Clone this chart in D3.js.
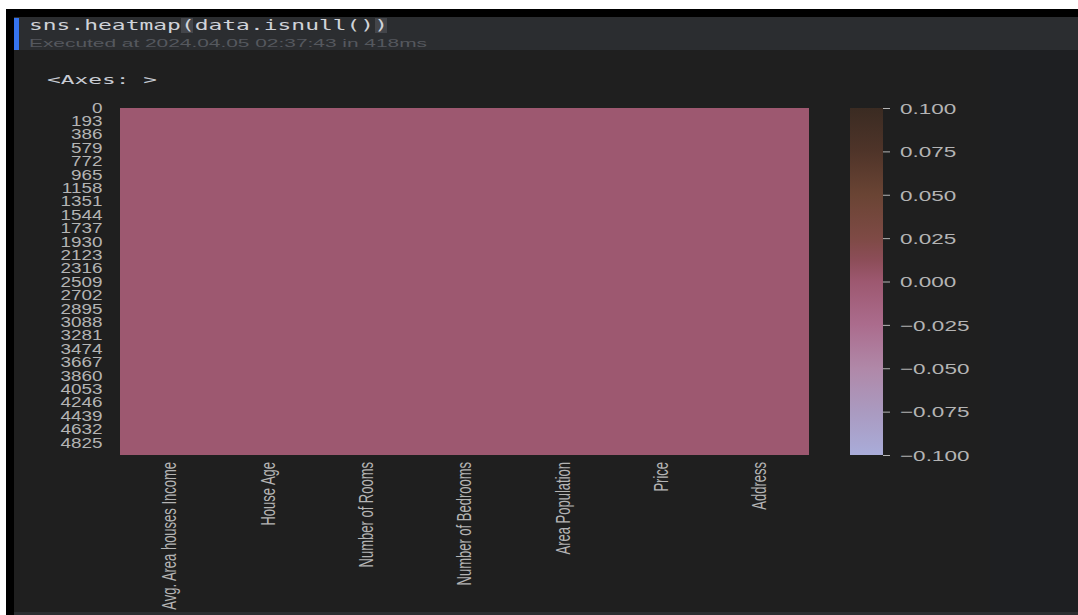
<!DOCTYPE html>
<html>
<head>
<meta charset="utf-8">
<title>sns.heatmap(data.isnull())</title>
<script src="https://d3js.org/d3.v7.min.js"></script>
<style>
  body { margin: 0; background: #ffffff; }
  svg { display: block; }
</style>
</head>
<body>
<div id="chart"></div>
<script>
// columns of the dataframe and the share of null values in each (all False)
const columns = ["Avg. Area houses Income", "House Age", "Number of Rooms",
                 "Number of Bedrooms", "Area Population", "Price", "Address"];
const nullValues = [0, 0, 0, 0, 0, 0, 0];
const rowCount = 5000;

// tick labels
const rowTicks = d3.range(0, 4826, 193);
const barTicks = [0.1, 0.075, 0.05, 0.025, 0, -0.025, -0.05, -0.075, -0.1];

// colormap stops
const cmapValues = [-0.1, -0.075, -0.05, -0.025, 0, 0.0125, 0.025, 0.05, 0.075, 0.1];
const cmapColors = ["#a9acd9", "#aa9ac0", "#b088a8", "#ab6c8d", "#9d5870",
                    "#8c4d58", "#7e4a45", "#6a4434", "#4f3429", "#3a2b22"];

const W = 1078, H = 615;
const svg = d3.select("#chart").append("svg")
    .attr("width", W).attr("height", H);

// notebook frame
svg.append("rect").attr("x", 6).attr("y", 9).attr("width", W - 6).attr("height", H - 9).attr("fill", "#000");
svg.append("rect").attr("x", 14).attr("y", 17).attr("width", W - 14).attr("height", 33).attr("fill", "#2b2d30");
svg.append("rect").attr("x", 14).attr("y", 50).attr("width", W - 14).attr("height", 562).attr("fill", "#1f1f1f");
svg.append("rect").attr("x", 990).attr("y", 50).attr("width", W - 990).attr("height", 562).attr("fill", "#1e1f22");
svg.append("rect").attr("x", 14).attr("y", 612).attr("width", W - 14).attr("height", 3).attr("fill", "#2b2d30");
svg.append("rect").attr("x", 14).attr("y", 18).attr("width", 5).attr("height", 32).attr("fill", "#3574f0");

// code line with bracket highlight
svg.append("rect").attr("x", 181).attr("y", 18).attr("width", 12).attr("height", 15).attr("fill", "#43454a");
svg.append("rect").attr("x", 375).attr("y", 18).attr("width", 12).attr("height", 15).attr("fill", "#43454a");
svg.append("text").attr("x", 29).attr("y", 30)
    .attr("font-family", "DejaVu Sans Mono").attr("font-size", "14px")
    .attr("textLength", 359).attr("lengthAdjust", "spacingAndGlyphs")
    .attr("fill", "#d0d3d9")
    .text("sns.heatmap(data.isnull())");
svg.append("text").attr("x", 29).attr("y", 47)
    .attr("font-family", "Liberation Sans").attr("font-size", "11px")
    .attr("textLength", 398).attr("lengthAdjust", "spacingAndGlyphs")
    .attr("fill", "#55585e")
    .text("Executed at 2024.04.05 02:37:43 in 418ms");
svg.append("text").attr("x", 47).attr("y", 84)
    .attr("font-family", "DejaVu Sans Mono").attr("font-size", "13px")
    .attr("textLength", 110).attr("lengthAdjust", "spacingAndGlyphs")
    .attr("fill", "#c8ccd4")
    .text("<Axes: >");

// heatmap
const mLeft = 120, mRight = 808, mTop = 108, mBottom = 455;

const x = d3.scaleBand().domain(columns).range([mLeft, mRight]);
const y = d3.scaleLinear().domain([0, rowCount]).range([mTop, mBottom]);
const color = d3.scaleLinear().domain(cmapValues).range(cmapColors);

svg.append("g")
    .attr("shape-rendering", "crispEdges")
    .selectAll("rect")
    .data(columns.map((c, i) => ({ col: c, v: nullValues[i] })))
    .join("rect")
    .attr("x", d => Math.floor(x(d.col)))
    .attr("y", y(0))
    .attr("width", Math.ceil(x.bandwidth()) + 1)
    .attr("height", y(rowCount) - y(0))
    .attr("fill", d => color(d.v));

const labelColor = "#b4b4b4";

// row axis
const yAxis = svg.append("g")
    .attr("transform", "translate(" + mLeft + ",0)")
    .call(d3.axisLeft(y).tickValues(rowTicks).tickSize(0).tickPadding(13)
        .tickFormat(d3.format("d")));
yAxis.select(".domain").remove();
yAxis.selectAll("text")
    .attr("font-family", "Liberation Sans").attr("font-size", "14px")
    .attr("fill", labelColor).attr("dy", "0.3em")
    .attr("transform", "scale(1.35,1)");

// column axis
const xAxis = svg.append("g")
    .attr("transform", "translate(0," + mBottom + ")")
    .call(d3.axisBottom(x).tickSize(0).tickPadding(0));
xAxis.select(".domain").remove();
xAxis.selectAll("text")
    .attr("font-family", "Liberation Sans").attr("font-size", "13px")
    .attr("fill", labelColor)
    .attr("text-anchor", "end")
    .attr("x", -7).attr("y", 0).attr("dy", "0.35em")
    .attr("transform", "scale(1.6,1) rotate(-90)");

// colour bar
const cbX = 850, cbW = 33;
const cbScale = d3.scaleLinear().domain([0.1, -0.1]).range([mTop, mBottom]);

const grad = svg.append("defs").append("linearGradient")
    .attr("id", "cbar").attr("x1", 0).attr("y1", 1).attr("x2", 0).attr("y2", 0);
grad.selectAll("stop")
    .data(cmapValues)
    .join("stop")
    .attr("offset", d => (d + 0.1) / 0.2)
    .attr("stop-color", d => color(d));

svg.append("rect")
    .attr("x", cbX).attr("y", cbScale(0.1))
    .attr("width", cbW).attr("height", cbScale(-0.1) - cbScale(0.1))
    .attr("fill", "url(#cbar)");

const cbAxis = svg.append("g")
    .attr("transform", "translate(" + (cbX + cbW) + ",0)")
    .call(d3.axisRight(cbScale).tickValues(barTicks).tickSize(7).tickPadding(7)
        .tickFormat(d => d3.format(".3f")(d).replace("-", "\u2212")));
cbAxis.select(".domain").remove();
cbAxis.selectAll("line").attr("stroke", labelColor).attr("stroke-width", 1);
cbAxis.selectAll("text")
    .attr("font-family", "Liberation Sans").attr("font-size", "15px")
    .attr("fill", labelColor).attr("dy", "0.35em")
    .attr("transform", "scale(1.5,1)")
    .attr("x", 17 / 1.5);
</script>
</body>
</html>
